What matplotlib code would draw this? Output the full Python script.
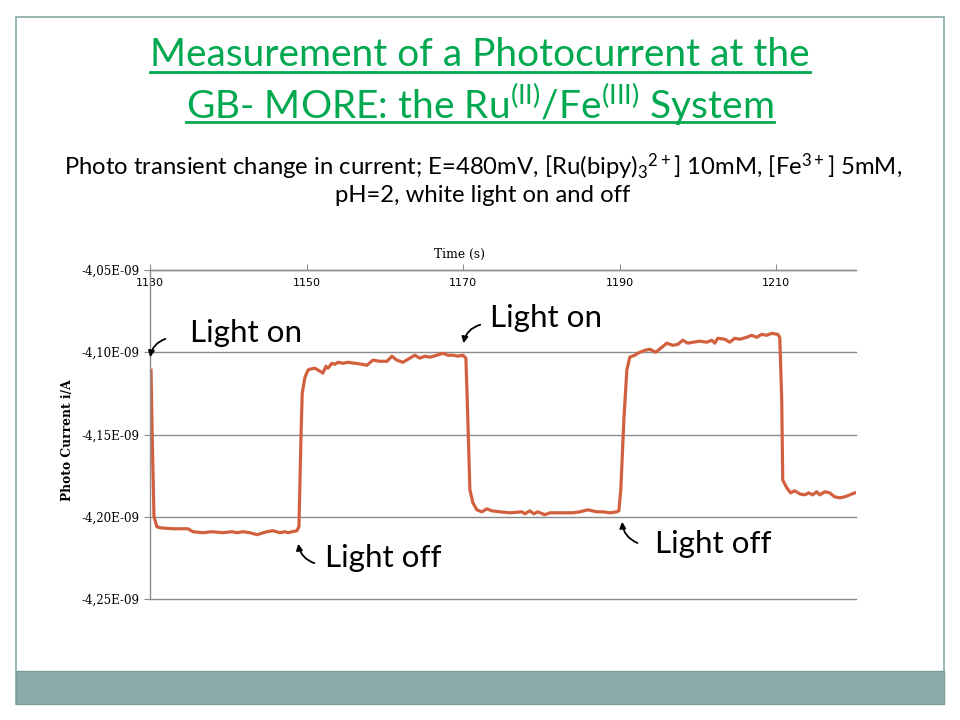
import numpy as np
import matplotlib
matplotlib.use("Agg")
import matplotlib.pyplot as plt
from matplotlib.lines import Line2D
from matplotlib.patches import Rectangle, FancyArrowPatch
from matplotlib.ticker import FuncFormatter

# time (s) and photocurrent (in units of 1E-09 A)
time_s = [1130.13, 1130.29, 1130.51, 1130.89, 1131.28, 1132.94, 1134.85, 1135.49, 1136.77, 1137.92,
          1139.32, 1140.47, 1141.11, 1141.88, 1142.77, 1143.67, 1144.94, 1145.71, 1146.60, 1147.24,
          1147.62, 1148.77, 1149.03, 1149.28, 1149.45, 1149.80, 1150.18, 1150.43, 1151.07, 1151.71,
          1152.09, 1152.48, 1152.73, 1153.24, 1153.63, 1154.01, 1154.65, 1155.29, 1156.18, 1157.08,
          1157.71, 1158.48, 1159.37, 1160.27, 1160.91, 1161.54, 1162.31, 1163.21, 1163.84, 1164.48,
          1165.12, 1165.76, 1166.65, 1167.42, 1168.06, 1168.70, 1169.34, 1169.97, 1170.36, 1170.61,
          1170.87, 1171.25, 1171.76, 1172.40, 1173.04, 1173.68, 1174.70, 1175.98, 1177.51, 1177.89,
          1178.53, 1179.04, 1179.55, 1180.45, 1181.09, 1182.36, 1183.26, 1184.02, 1184.92, 1185.94,
          1187.09, 1187.85, 1188.75, 1189.64, 1189.90, 1190.15, 1190.54, 1190.92, 1191.30, 1191.94,
          1192.32, 1193.22, 1193.86, 1194.62, 1195.39, 1196.03, 1196.79, 1197.43, 1198.07, 1198.71,
          1199.35, 1200.24, 1201.14, 1201.78, 1202.16, 1202.54, 1203.44, 1204.07, 1204.71, 1205.35,
          1206.24, 1206.88, 1207.52, 1208.16, 1208.79, 1209.43, 1210.20, 1210.46, 1210.71, 1210.84,
          1211.35, 1211.86, 1212.37, 1213.01, 1213.65, 1214.16, 1214.67, 1215.18, 1215.57, 1216.21,
          1216.84, 1217.48, 1218.12, 1218.76, 1219.40, 1220.04]
current = [-4.1109, -4.1533, -4.2000, -4.2061, -4.2067, -4.2073, -4.2073, -4.2091, -4.2097, -4.2091,
           -4.2097, -4.2091, -4.2097, -4.2091, -4.2097, -4.2109, -4.2091, -4.2085, -4.2097, -4.2091,
           -4.2097, -4.2085, -4.2061, -4.1533, -4.1248, -4.1152, -4.1109, -4.1103, -4.1097, -4.1115,
           -4.1127, -4.1085, -4.1097, -4.1067, -4.1073, -4.1061, -4.1067, -4.1061, -4.1067, -4.1073,
           -4.1079, -4.1048, -4.1055, -4.1055, -4.1024, -4.1048, -4.1061, -4.1036, -4.1018, -4.1036,
           -4.1024, -4.1030, -4.1018, -4.1006, -4.1018, -4.1018, -4.1024, -4.1018, -4.1036, -4.1412,
           -4.1836, -4.1915, -4.1958, -4.1970, -4.1952, -4.1964, -4.1970, -4.1976, -4.1970, -4.1982,
           -4.1964, -4.1982, -4.1970, -4.1988, -4.1976, -4.1976, -4.1976, -4.1976, -4.1970, -4.1958,
           -4.1970, -4.1970, -4.1976, -4.1970, -4.1964, -4.1836, -4.1412, -4.1109, -4.1030, -4.1018,
           -4.1006, -4.0988, -4.0982, -4.1000, -4.0970, -4.0945, -4.0958, -4.0952, -4.0927, -4.0945,
           -4.0939, -4.0933, -4.0939, -4.0927, -4.0945, -4.0915, -4.0921, -4.0939, -4.0915, -4.0921,
           -4.0909, -4.0897, -4.0909, -4.0891, -4.0897, -4.0885, -4.0891, -4.0909, -4.1291, -4.1776,
           -4.1824, -4.1855, -4.1842, -4.1861, -4.1867, -4.1855, -4.1867, -4.1848, -4.1867, -4.1848,
           -4.1855, -4.1879, -4.1885, -4.1879, -4.1867, -4.1855]

x_ticks = [1130, 1150, 1170, 1190, 1210]
y_ticks = [-4.25, -4.20, -4.15, -4.10, -4.05]

W, H = 960, 720


def px(x, y):
    # slide pixel -> figure fraction
    return (x / W, 1 - y / H)


fig = plt.figure(figsize=(9.6, 7.2), dpi=100)
fig.patch.set_facecolor("white")

# slide frame and bottom band
fig.add_artist(Rectangle(px(16, 704), 928 / W, 687 / H, transform=fig.transFigure,
                         fill=False, edgecolor="#8BAAAA", linewidth=1.2))
fig.add_artist(Rectangle(px(16, 704), 928 / W, 33 / H, transform=fig.transFigure,
                         facecolor="#8BACAC", edgecolor="#7A9C9C", linewidth=1))

# titles
title_font = "Lato"
green = "#00A850"
plt.rcParams["mathtext.fontset"] = "custom"
plt.rcParams["mathtext.rm"] = title_font
plt.rcParams["mathtext.it"] = title_font
t1 = fig.text(*px(480, 55), "Measurement of a Photocurrent at the", ha="center", va="center",
              fontsize=28, color=green, family=title_font)
t2 = fig.text(*px(480, 105), r"GB- MORE: the Ru$^{\mathrm{(II)}}$/Fe$^{\mathrm{(III)}}$ System",
              ha="center", va="center", fontsize=28, color=green, family=title_font)
fig.text(*px(483, 167), r"Photo transient change in current; E=480mV, [Ru(bipy)$_3$$^{2+}$] 10mM, [Fe$^{3+}$] 5mM,",
         ha="center", va="center", fontsize=17.2, color="black", family=title_font)
fig.text(*px(483, 195), "pH=2, white light on and off", ha="center", va="center",
         fontsize=17.2, color="black", family=title_font)

ax = fig.add_axes([150 / W, 1 - 599 / H, 706 / W, 329 / H])
ax.plot(time_s, current, color="#D2603F", linewidth=2.3, solid_joinstyle="round")
ax.set_xlim(1130, 1220.2)
ax.set_ylim(-4.25, -4.05)

ax.set_xticks(x_ticks)
ax.set_yticks(y_ticks)
ax.yaxis.set_major_formatter(FuncFormatter(lambda v, p: f"{v:.2f}".replace(".", ",") + "E-09"))
ax.grid(axis="y", color="#8C8C8C", linewidth=1)
for gl in ax.get_ygridlines():
    gl.set_clip_on(False)
ax.set_axisbelow(True)
for s in ["right", "bottom"]:
    ax.spines[s].set_visible(False)
for s in ["left", "top"]:
    ax.spines[s].set_color("#8C8C8C")
    ax.spines[s].set_linewidth(1)
ax.tick_params(axis="x", top=True, bottom=False, labeltop=True, labelbottom=False,
               direction="out", length=4, color="#8C8C8C", pad=-17, labelsize=8)
for lbl in ax.get_xticklabels():
    lbl.set_family("DejaVu Sans")
ax.tick_params(axis="y", direction="out", length=4, color="#8C8C8C", labelsize=8.5)
for lbl in ax.get_yticklabels():
    lbl.set_family("DejaVu Serif")

fig.text(*px(460, 254), "Time (s)", ha="center", va="center", fontsize=8.8, family="DejaVu Serif")
fig.text(*px(68, 440), "Photo Current i/A", ha="center", va="center", rotation=90,
         fontsize=8.8, family="DejaVu Serif", fontweight="bold")

# annotations
ann_font = dict(fontsize=22.6, family=title_font, color="black", va="center", ha="left")
fig.text(*px(190, 333), "Light on", **ann_font)
fig.text(*px(490, 318), "Light on", **ann_font)
fig.text(*px(325, 558), "Light off", **ann_font)
fig.text(*px(655, 544), "Light off", **ann_font)

arrows = [((168, 338), (150, 360), 0.35),
          ((483, 324), (463, 346), 0.35),
          ((317, 564), (298, 541), -0.35),
          ((640, 544), (622, 519), -0.35)]
for start, end, rad in arrows:
    fig.add_artist(FancyArrowPatch(px(*start), px(*end), transform=fig.transFigure,
                                   connectionstyle=f"arc3,rad={rad}", arrowstyle="-|>",
                                   mutation_scale=9, color="black", linewidth=1.3))

# underline the title lines
fig.canvas.draw()
r = fig.canvas.get_renderer()
for t, y in [(t1, 72), (t2, 122)]:
    bb = t.get_window_extent(renderer=r)
    fig.add_artist(Line2D([bb.x0 / W, bb.x1 / W], [1 - y / H] * 2, transform=fig.transFigure,
                          color=green, linewidth=2))

fig.savefig("out.png", dpi=100)
